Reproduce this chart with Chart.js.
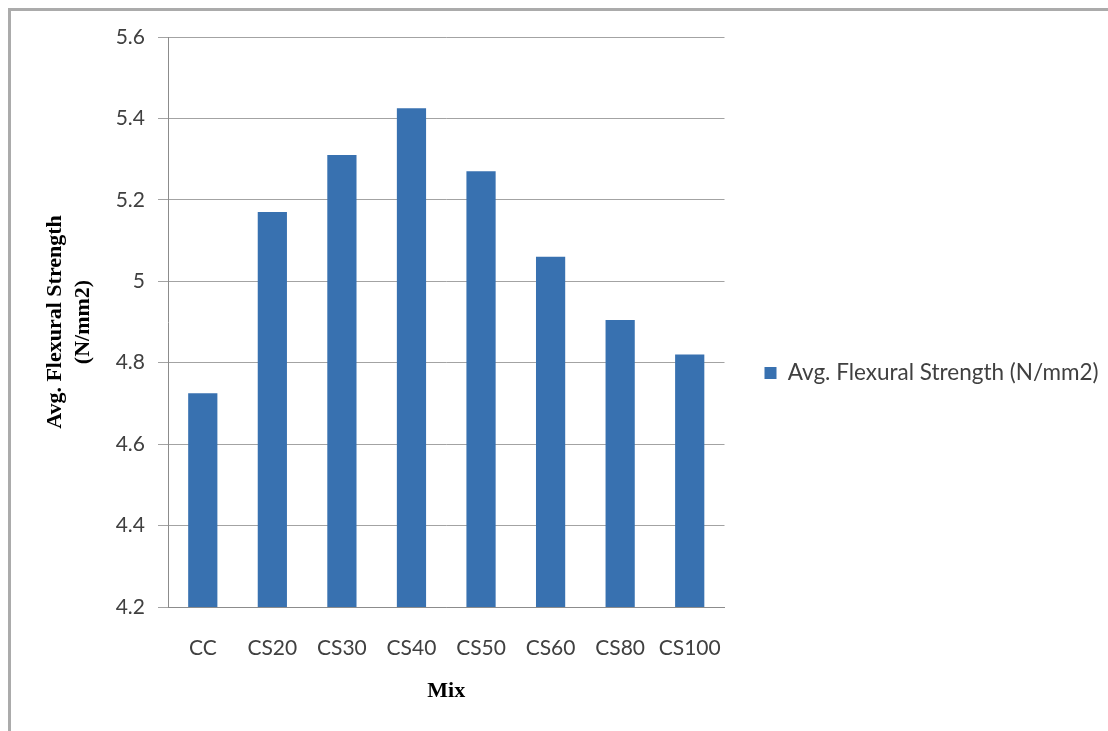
<!DOCTYPE html>
<html>
<head>
<meta charset="utf-8">
<script src="https://cdn.jsdelivr.net/npm/chart.js@4.4.1/dist/chart.umd.min.js"></script>
<style>
  html, body { margin: 0; padding: 0; background: #ffffff; overflow: hidden; }
  #wrap { position: relative; width: 1108px; height: 731px; }
  #frame {
    position: absolute; left: 8px; top: 8px; width: 1200px; height: 800px;
    border-left: 3px solid #ababab; border-top: 3px solid #ababab;
    box-sizing: border-box; pointer-events: none;
  }
  canvas { position: absolute; left: 0; top: 0; }
</style>
</head>
<body>
<div id="wrap">
  <canvas id="chart" width="1108" height="731"></canvas>
  <div id="frame"></div>
</div>
<script>
// Mix designations and their average flexural strength (N/mm2)
const mixes = ['CC', 'CS20', 'CS30', 'CS40', 'CS50', 'CS60', 'CS80', 'CS100'];
const flexuralStrength = [4.725, 5.17, 5.31, 5.425, 5.27, 5.06, 4.905, 4.82];
const yTickValues = [4.2, 4.4, 4.6, 4.8, 5.0, 5.2, 5.4, 5.6];

const seriesLabel = 'Avg. Flexural Strength (N/mm2)';
const barColor = '#3871b0';
const tickFont = { family: 'Lato', size: 21 };
const legendFont = { family: 'Lato', size: 22.5 };
const serif = '"Liberation Serif", "Times New Roman", serif';

// Give the right-hand legend a fixed width so the long label is never clipped
const legendWidth = {
  id: 'legendWidth',
  afterInit(chart) {
    const legend = chart.legend;
    const fit = legend.fit.bind(legend);
    legend.fit = function () { fit(); this.width = 383.5; };
  }
};

new Chart(document.getElementById('chart'), {
  type: 'bar',
  data: {
    labels: mixes,
    datasets: [{
      label: seriesLabel,
      data: flexuralStrength,
      backgroundColor: barColor,
      borderWidth: 0,
      categoryPercentage: 1.0,
      barPercentage: 0.42
    }]
  },
  plugins: [legendWidth],
  options: {
    responsive: false,
    animation: false,
    layout: { padding: { left: 41, top: 37, right: 0, bottom: 22 } },
    plugins: {
      tooltip: { enabled: false },
      legend: {
        position: 'right',
        labels: {
          boxWidth: 12,
          boxHeight: 12,
          padding: 40,
          color: '#404040',
          font: legendFont
        }
      }
    },
    scales: {
      x: {
        grid: { display: false },
        border: { display: true, color: '#8c8c8c', width: 1 },
        ticks: { color: '#404040', font: tickFont, padding: 21, maxRotation: 0 },
        title: {
          display: true, text: 'Mix', color: '#000000',
          font: { family: serif, size: 22, weight: 'bold' },
          padding: { top: 14, bottom: 4 }
        },
        afterFit: s => { s.height = 102; }
      },
      y: {
        min: 4.2,
        max: 5.6,
        afterBuildTicks: s => { s.ticks = yTickValues.map(v => ({ value: v })); },
        grid: { color: '#a3a3a3', lineWidth: 1, tickLength: 10, drawTicks: true, tickColor: '#a3a3a3' },
        border: { display: true, color: '#8c8c8c', width: 1 },
        ticks: {
          color: '#404040', font: tickFont, padding: 13,
          callback: v => String(parseFloat(Number(v).toFixed(1)))
        },
        title: {
          display: true,
          text: ['Avg. Flexural Strength', '(N/mm2)'],
          color: '#000000',
          font: { family: serif, size: 22, weight: 'bold', lineHeight: 1.27 },
          padding: { top: 0, bottom: 0 }
        },
        afterFit: s => { s.width = 127; }
      }
    }
  }
});
</script>
</body>
</html>
